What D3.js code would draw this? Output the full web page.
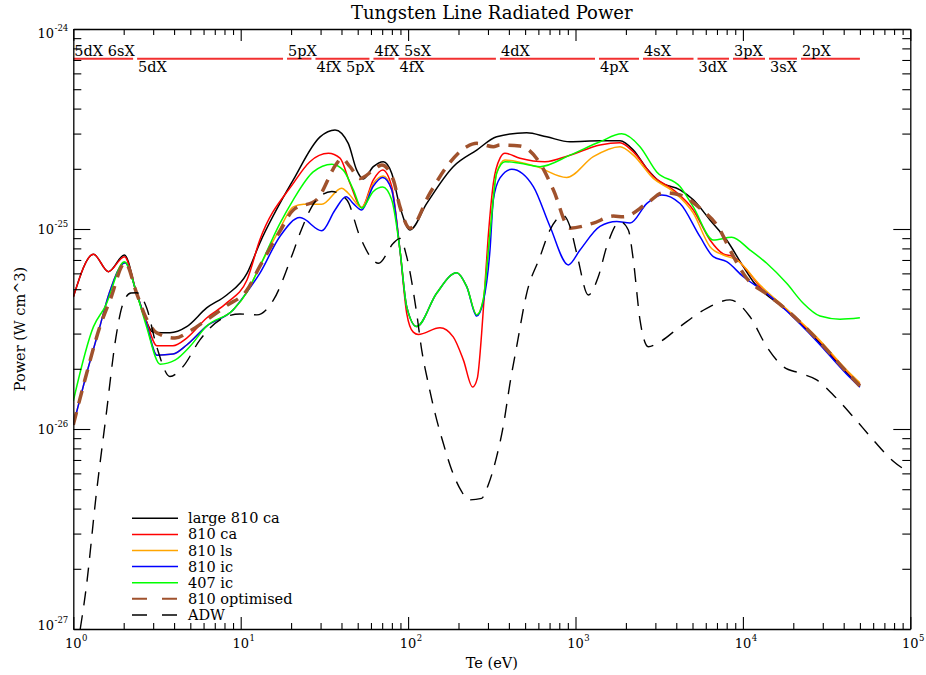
<!DOCTYPE html>
<html>
<head>
<meta charset="utf-8">
<script src="https://cdn.jsdelivr.net/npm/d3@7"></script>
<style>
  body { margin: 0; background: #fff; }
  svg { display: block; }
  text { font-family: "DejaVu Serif", serif; fill: #000; }
</style>
</head>
<body>
<svg id="chart" width="926" height="675"></svg>
<script>
// Radiated line power of tungsten, [Te (eV), power (W cm^3)]
const large810ca = [[1,4.57e-26],[1.32,7.47e-26],[1.62,6.12e-26],[2.02,7.41e-26],[2.39,4.77e-26],[2.68,3.59e-26],[2.99,3.05e-26],[3.78,3.03e-26],[4.76,3.25e-26],[6.26,4.03e-26],[8.25,4.68e-26],[10.9,6.0e-26],[13.0,8.5e-26],[20.6,1.76e-25],[29.8,2.89e-25],[36.6,3.13e-25],[43.9,2.68e-25],[49.3,1.97e-25],[54.0,1.78e-25],[62,2.05e-25],[71.1,2.17e-25],[79.8,1.90e-25],[89.4,1.29e-25],[102.6,9.89e-26],[129,1.34e-25],[186,2.05e-25],[257,2.48e-25],[338,2.89e-25],[511,3.03e-25],[673,2.89e-25],[927,2.73e-25],[1400,2.76e-25],[1845,2.76e-25],[2215,2.48e-25],[2663,2.01e-25],[3197,1.72e-25],[4210,1.57e-25],[5054,1.40e-25],[6360,1.11e-25],[8000,8.81e-26],[10060,6.48e-26],[11540,5.45e-26],[13880,4.68e-26],[18260,3.94e-26],[21940,3.38e-26],[27600,2.79e-26],[34670,2.26e-26],[41690,1.90e-26],[50000,1.64e-26]];

const ca810 = [[1,4.57e-26],[1.32,7.47e-26],[1.62,6.12e-26],[2.02,7.27e-26],[2.39,4.77e-26],[2.72,3.51e-26],[3.16,2.61e-26],[3.94,2.61e-26],[4.76,2.85e-26],[6.26,3.59e-26],[8.25,4.27e-26],[10.9,5.56e-26],[13.0,8.81e-26],[20.6,1.69e-25],[25.9,2.17e-25],[33.4,2.39e-25],[39.2,2.26e-25],[45,1.69e-25],[52.8,1.28e-25],[62,1.76e-25],[70.5,1.97e-25],[79.8,1.63e-25],[89.4,7.85e-26],[98.1,3.79e-26],[107.4,3.05e-26],[115,2.97e-26],[155,3.21e-26],[186,2.89e-26],[214,2.21e-26],[243,1.62e-26],[259,1.79e-26],[275,3.01e-26],[284,4.42e-26],[300,8.81e-26],[323,1.69e-25],[354,2.26e-25],[379,2.39e-25],[466,2.26e-25],[657,2.17e-25],[927,2.34e-25],[1400,2.63e-25],[1845,2.70e-25],[2215,2.43e-25],[2916,1.83e-25],[3839,1.57e-25],[5054,1.245e-25],[6360,8.81e-26],[7637,7.5e-26],[8763,7.27e-26],[10540,6.24e-26],[12650,5.15e-26],[18260,3.94e-26],[27600,2.85e-26],[41690,1.95e-26],[50000,1.68e-26]];

const ls810 = [[1,1.05e-26],[1.19,1.84e-26],[1.43,3.18e-26],[1.64,4.79e-26],[2.04,6.79e-26],[2.39,4.77e-26],[2.72,3.43e-26],[3.16,2.34e-26],[3.94,2.37e-26],[4.76,2.63e-26],[6.26,3.27e-26],[9.0,3.94e-26],[10.9,4.84e-26],[13.0,6.5e-26],[17.1,1.0e-25],[20.6,1.29e-25],[23.7,1.33e-25],[30.5,1.33e-25],[40.1,1.60e-25],[43.9,1.51e-25],[52.8,1.28e-25],[62,1.69e-25],[71.1,1.84e-25],[79.8,1.57e-25],[89.4,7.85e-26],[98.1,4.09e-26],[112.5,3.25e-26],[148,4.77e-26],[195,6.05e-26],[224,5.15e-26],[257,3.72e-26],[281,4.42e-26],[308.5,9.52e-26],[338,1.90e-25],[379,2.21e-25],[586,2.05e-25],[886,1.81e-25],[1278,2.30e-25],[1845,2.58e-25],[2215,2.34e-25],[2916,1.79e-25],[3839,1.54e-25],[5054,1.20e-25],[6360,8.16e-26],[7637,7.41e-26],[9183,7.0e-26],[12650,5.25e-26],[18260,3.98e-26],[27600,2.88e-26],[41690,1.97e-26],[50000,1.70e-26]];

const ic810 = [[1,1.05e-26],[1.19,1.84e-26],[1.43,3.18e-26],[1.64,4.79e-26],[2.04,6.79e-26],[2.39,4.77e-26],[2.72,3.43e-26],[3.16,2.34e-26],[3.94,2.37e-26],[4.76,2.63e-26],[6.26,3.27e-26],[9.0,3.94e-26],[10.9,4.84e-26],[13.0,6.0e-26],[17.1,9.15e-26],[22.6,1.14e-25],[30.5,9.80e-26],[36.6,1.245e-25],[42.6,1.45e-25],[47.1,1.34e-25],[52.8,1.245e-25],[62,1.64e-25],[70.5,1.81e-25],[79.8,1.57e-25],[89.4,7.85e-26],[98.1,4.09e-26],[112.5,3.25e-26],[148,4.77e-26],[195,6.05e-26],[224,5.15e-26],[257,3.67e-26],[281,4.32e-26],[308.5,7.85e-26],[323,1.40e-25],[354,1.80e-25],[416,1.99e-25],[560,1.63e-25],[704,1.03e-25],[906,6.61e-26],[1064,7.85e-26],[1400,1.03e-25],[1763,1.09e-25],[2117,1.07e-25],[2663,1.34e-25],[3273,1.48e-25],[4210,1.34e-25],[5542,9.15e-26],[6657,7.27e-26],[8000,6.86e-26],[10060,5.77e-26],[13880,4.77e-26],[18260,3.89e-26],[27600,2.75e-26],[41690,1.88e-26],[50000,1.62e-26]];

const ic407 = [[1,1.38e-26],[1.32,3.25e-26],[1.55,4.09e-26],[2.02,6.86e-26],[2.39,4.77e-26],[2.72,3.31e-26],[3.3,2.11e-26],[4.05,2.21e-26],[5.0,2.6e-26],[6.26,3.27e-26],[9.0,3.94e-26],[10.9,4.84e-26],[13.0,6.5e-26],[17.1,1.06e-25],[20.6,1.40e-25],[27.1,1.93e-25],[35.0,2.11e-25],[41.0,1.97e-25],[47.1,1.57e-25],[52.8,1.27e-25],[62,1.54e-25],[70.5,1.62e-25],[79.8,1.40e-25],[89.4,7.85e-26],[98.1,4.09e-26],[112.5,3.25e-26],[148,4.77e-26],[195,6.05e-26],[224,5.15e-26],[257,3.72e-26],[281,4.42e-26],[308.5,9.52e-26],[338,1.90e-25],[379,2.17e-25],[466,2.13e-25],[614,2.05e-25],[927,2.34e-25],[1400,2.73e-25],[1888,2.99e-25],[2428,2.58e-25],[3056,1.93e-25],[4210,1.63e-25],[5054,1.29e-25],[6657,8.81e-26],[8572,9.09e-26],[11030,7.85e-26],[13880,6.74e-26],[18260,5.35e-26],[22950,4.25e-26],[28880,3.67e-26],[38020,3.54e-26],[50000,3.60e-26]];

const optimised810 = [[1,1.05e-26],[1.19,1.84e-26],[1.43,3.18e-26],[1.66,4.42e-26],[2.04,6.79e-26],[2.39,4.77e-26],[2.72,3.59e-26],[3.16,3.02e-26],[4.05,2.85e-26],[4.98,3.09e-26],[6.26,3.51e-26],[8.25,4.14e-26],[10.9,4.95e-26],[13.0,6.5e-26],[17.1,9.7e-26],[20.6,1.245e-25],[28.4,1.40e-25],[37.5,2.13e-25],[40.1,2.26e-25],[45,2.05e-25],[51.6,1.79e-25],[62,1.97e-25],[69.6,2.09e-25],[81.6,1.76e-25],[89.4,1.29e-25],[102.6,1.01e-25],[135,1.51e-25],[170,2.05e-25],[224,2.58e-25],[257,2.68e-25],[323,2.58e-25],[354,2.63e-25],[466,2.60e-25],[614,2.13e-25],[737,1.57e-25],[927,1.01e-25],[1278,1.07e-25],[1682,1.16e-25],[1930,1.15e-25],[2663,1.34e-25],[3345,1.52e-25],[4210,1.48e-25],[5542,1.27e-25],[7299,9.89e-26],[8373,7.85e-26],[10540,5.67e-26],[13880,4.73e-26],[18260,3.94e-26],[27600,2.82e-26],[41690,1.93e-26],[50000,1.64e-26]];

const adw = [[1.1,1.0e-27],[1.19,1.57e-27],[1.37,4.68e-27],[1.57,1.17e-26],[1.80,2.90e-26],[1.97,4.18e-26],[2.21,4.79e-26],[2.39,4.80e-26],[2.745,4.03e-26],[3.15,2.58e-26],[3.78,1.83e-26],[4.52,2.05e-26],[5.71,2.79e-26],[7.52,3.51e-26],[9.9,3.76e-26],[12.5,3.72e-26],[15.7,4.42e-26],[20.5,7.59e-26],[22.6,9.52e-26],[28.4,1.40e-25],[35.0,1.54e-25],[43.0,1.40e-25],[51.6,9.15e-26],[66.5,6.74e-26],[81.6,8.48e-26],[89.4,8.98e-26],[98.1,7.27e-26],[112.5,3.79e-26],[120.6,2.48e-26],[132,1.69e-26],[144.8,1.20e-26],[162.3,8.48e-27],[182.2,6.24e-27],[209,4.86e-27],[229,4.42e-27],[275,4.50e-27],[301,5.25e-27],[338,7.27e-27],[370,1.03e-26],[406,1.69e-26],[445,2.58e-26],[511,4.77e-26],[614,7.27e-26],[704,9.89e-26],[846,1.17e-25],[927,1.03e-25],[1017,7.56e-26],[1193,4.68e-26],[1368,5.77e-26],[1536,8.16e-26],[1845,1.09e-25],[2068,9.89e-26],[2215,7.0e-26],[2428,3.51e-26],[2722,2.58e-26],[3197,2.73e-26],[4210,3.25e-26],[6078,4.01e-26],[8373,4.42e-26],[11030,3.64e-26],[13880,2.58e-26],[17430,2.05e-26],[21940,1.90e-26],[27600,1.76e-26],[34670,1.48e-26],[45650,1.15e-26],[60120,8.81e-27],[79120,6.9e-27],[97000,6.1e-27]];

const seriesNames = ["large 810 ca", "810 ca", "810 ls", "810 ic", "407 ic", "810 optimised", "ADW"];
const seriesData = [large810ca, ca810, ls810, ic810, ic407, optimised810, adw];

// Outer shell ranges shown along the top
const shellEdges = [1, 2.34, 18.4, 27.2, 60.4, 85.2, 344, 1344, 2462, 5211, 8490, 13931, 21636, 50000];
const shellLabels = ["5dX 6sX", "5dX", "5pX", "4fX 5pX", "4fX 5sX", "4fX", "4dX", "4pX", "4sX", "3dX", "3pX", "3sX", "2pX"];

// Axis ticks
const xMajor = [1, 10, 100, 1e3, 1e4, 1e5];
const xMajorExp = ["0", "1", "2", "3", "4", "5"];
const yMajor = [1e-27, 1e-26, 1e-25, 1e-24];
const yMajorExp = ["-27", "-26", "-25", "-24"];

// ---- styling ----
const seriesColors = ["#000000", "#ff0000", "#ffa500", "#0000ff", "#00ff00", "#a0522d", "#000000"];
const seriesWidths = [1.5, 1.5, 1.5, 1.5, 1.5, 3.5, 1.4];
const seriesDash = [null, null, null, null, null, "13,9", "14,10"];
const legendDash = [null, null, null, null, null, "15,15", "15,15"];

const svg = d3.select("#chart");
const L = 73.3, R = 910.3, T = 29, B = 629;

const x = d3.scaleLog().domain([1, 1e5]).range([L, R]);
const y = d3.scaleLog().domain([1e-27, 1e-24]).range([B, T]);

const xMinor = [];
for (let e = 0; e < 5; e++) for (let k = 2; k < 10; k++) xMinor.push(k * Math.pow(10, e));
const yMinor = [];
for (let e = -27; e < -24; e++) for (let k = 2; k < 10; k++) yMinor.push(k * Math.pow(10, e));

svg.append("defs").append("clipPath").attr("id", "plotClip")
  .append("rect").attr("x", L).attr("y", T).attr("width", R - L).attr("height", B - T);

// ---- curves ----
const line = d3.line()
  .x(d => x(d[0]))
  .y(d => y(d[1]))
  .curve(d3.curveMonotoneX);

const curves = svg.append("g").attr("clip-path", "url(#plotClip)");
seriesData.forEach((data, i) => {
  curves.append("path")
    .datum(data)
    .attr("d", line)
    .attr("fill", "none")
    .attr("stroke", seriesColors[i])
    .attr("stroke-width", seriesWidths[i])
    .attr("stroke-dasharray", seriesDash[i])
    .attr("stroke-linejoin", "round");
});

// ---- shell bars ----
const barY = 58.7;
const shells = svg.append("g");
for (let i = 0; i < shellLabels.length; i++) {
  const x1 = x(shellEdges[i]) + (i === 0 ? 0 : 2);
  const x2 = x(shellEdges[i + 1]) - (i === shellLabels.length - 1 ? 0 : 2);
  shells.append("line")
    .attr("x1", x1).attr("x2", x2).attr("y1", barY).attr("y2", barY)
    .attr("stroke", "#f23030").attr("stroke-width", 2);
  shells.append("text")
    .attr("x", x1 + 1)
    .attr("y", i % 2 === 0 ? barY - 3 : barY + 13)
    .attr("font-size", "14.5px")
    .text(shellLabels[i]);
}

// ---- axes ----
function styleAxis(g) {
  g.selectAll("path.domain").attr("stroke", "#000").attr("stroke-width", 1.3);
  g.selectAll(".tick line").attr("stroke", "#000").attr("stroke-width", 1.1);
}
function minorAxis(g) {
  g.select("path.domain").remove();
  g.selectAll(".tick line").attr("stroke", "#000").attr("stroke-width", 1.1);
}

svg.append("g").attr("transform", `translate(0,${B})`)
  .call(d3.axisBottom(x).tickValues(xMajor).tickSize(-12).tickSizeOuter(0).tickFormat(""))
  .call(styleAxis);
svg.append("g").attr("transform", `translate(0,${B})`)
  .call(d3.axisBottom(x).tickValues(xMinor).tickSize(-6).tickFormat(""))
  .call(minorAxis);
svg.append("g").attr("transform", `translate(0,${T})`)
  .call(d3.axisTop(x).tickValues(xMajor).tickSize(-12).tickSizeOuter(0).tickFormat(""))
  .call(styleAxis);
svg.append("g").attr("transform", `translate(0,${T})`)
  .call(d3.axisTop(x).tickValues(xMinor).tickSize(-6).tickFormat(""))
  .call(minorAxis);
svg.append("g").attr("transform", `translate(${L},0)`)
  .call(d3.axisLeft(y).tickValues(yMajor).tickSize(-17).tickSizeOuter(0).tickFormat(""))
  .call(styleAxis);
svg.append("g").attr("transform", `translate(${L},0)`)
  .call(d3.axisLeft(y).tickValues(yMinor).tickSize(-8).tickFormat(""))
  .call(minorAxis);
svg.append("g").attr("transform", `translate(${R},0)`)
  .call(d3.axisRight(y).tickValues(yMajor).tickSize(-17).tickSizeOuter(0).tickFormat(""))
  .call(styleAxis);
svg.append("g").attr("transform", `translate(${R},0)`)
  .call(d3.axisRight(y).tickValues(yMinor).tickSize(-8).tickFormat(""))
  .call(minorAxis);

// ---- tick labels (10 with superscript exponent) ----
const labels = svg.append("g");
xMajor.forEach((v, i) => {
  const base = labels.append("text")
    .attr("x", x(v)).attr("y", B + 19)
    .attr("text-anchor", "middle").attr("font-size", "13px").text("10");
  const w = base.node().getComputedTextLength();
  labels.append("text")
    .attr("x", x(v) + w / 2 + 0.5).attr("y", B + 12)
    .attr("font-size", "8.5px").text(xMajorExp[i]);
});
yMajor.forEach((v, i) => {
  const baseY = Math.min(Math.max(y(v) + 5, T + 9), B + 1);
  const sup = labels.append("text")
    .attr("x", L - 5).attr("y", baseY - 7)
    .attr("text-anchor", "end").attr("font-size", "8.5px").text(yMajorExp[i]);
  const sw = sup.node().getComputedTextLength();
  labels.append("text")
    .attr("x", L - 5 - sw - 0.5).attr("y", baseY)
    .attr("text-anchor", "end").attr("font-size", "13px").text("10");
});

// ---- titles ----
svg.append("text")
  .attr("x", (L + R) / 2).attr("y", 19)
  .attr("text-anchor", "middle").attr("font-size", "18px")
  .text("Tungsten Line Radiated Power");
svg.append("text")
  .attr("x", (L + R) / 2).attr("y", 668)
  .attr("text-anchor", "middle").attr("font-size", "14.5px")
  .text("Te (eV)");
svg.append("text")
  .attr("transform", `translate(25,${(T + B) / 2}) rotate(-90)`)
  .attr("text-anchor", "middle").attr("font-size", "14.5px")
  .text("Power (W cm^3)");

// ---- legend ----
const legend = svg.append("g");
seriesNames.forEach((name, i) => {
  const ly = 518.3 + i * 16.1;
  legend.append("line")
    .attr("x1", 132).attr("x2", 178).attr("y1", ly).attr("y2", ly)
    .attr("stroke", seriesColors[i])
    .attr("stroke-width", i === 5 ? 2 : 1.5)
    .attr("stroke-dasharray", legendDash[i]);
  legend.append("text")
    .attr("x", 188).attr("y", ly + 5)
    .attr("font-size", "14.5px")
    .text(name);
});
</script>
</body>
</html>
